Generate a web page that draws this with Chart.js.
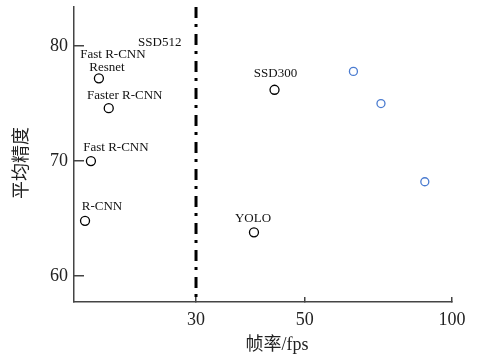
<!DOCTYPE html>
<html>
<head>
<meta charset="utf-8">
<script src="https://cdn.jsdelivr.net/npm/chart.js@4.4.0/dist/chart.umd.min.js"></script>
<style>
body { margin: 0; background: #fff; }
#wrap { width: 477px; height: 359px; }
</style>
</head>
<body>
<div id="wrap"><canvas id="chart"></canvas></div>
<script>
// detectors: frame rate (fps) vs mean average precision
const names = ['R-CNN', 'Fast R-CNN', 'Faster R-CNN', 'Fast R-CNN\nResnet', 'YOLO', 'SSD300'];
const fps = [17.8, 18.3, 19.9, 19.0, 39.4, 43.4];
const mAP = [64.8, 70.0, 74.6, 77.2, 63.8, 76.2];

// unlabeled points (blue)
const otherFps = [62.9, 71.6, 88.0];
const otherMAP = [77.8, 75.0, 68.2];

// SSD512 only shows its label
const labelOnlyNames = ['SSD512'];
const labelOnlyFps = [25.3];
const labelOnlyMAP = [80.3];

const xTicks = [30, 50, 100];
const yTicks = [60, 70, 80];
const splitFps = 30;
const xRange = [16.9, 100];
const yRange = [57.74, 83.4];

// pixel offsets of each label line from its marker
const labelOffsets = [[[17, -14]], [[25, -13]], [[16, -13]], [[14, -24], [8, -11]], [[-1, -14]], [[1, -16]]];

const serif = "'Liberation Serif', 'Noto Sans CJK SC', serif";
const axisColor = '#444';

const labelsPlugin = {
	id: 'labels',
	afterDatasetsDraw(chart) {
		const c = chart.ctx;
		const meta = chart.getDatasetMeta(0);
		c.save();
		c.font = '13px ' + serif;
		c.fillStyle = '#111';
		c.textAlign = 'center';
		c.textBaseline = 'middle';
		names.forEach((n, i) => {
			const p = meta.data[i];
			n.split('\n').forEach((line, j) => {
				const off = labelOffsets[i][j];
				c.fillText(line, p.x + off[0], p.y + off[1]);
			});
		});
		labelOnlyNames.forEach((n, i) => {
			const x = chart.scales.x.getPixelForValue(labelOnlyFps[i]);
			const y = chart.scales.y.getPixelForValue(labelOnlyMAP[i]);
			c.fillText(n, x, y);
		});

		// axis titles
		const a = chart.chartArea;
		c.font = '18px ' + serif;
		c.fillStyle = '#222';
		c.fillText('帧率/fps', a.left + 203, 345);
		c.translate(22, 163);
		c.rotate(-Math.PI / 2);
		c.fillText('平均精度', 0, 0);
		c.restore();
	}
};

new Chart(document.getElementById('chart'), {
	type: 'scatter',
	data: {
		datasets: [{
			data: fps.map((v, i) => ({ x: v, y: mAP[i] })),
			pointStyle: 'circle',
			pointRadius: 4.5,
			borderWidth: 1.3,
			borderColor: '#000',
			backgroundColor: 'rgba(0,0,0,0)'
		}, {
			data: otherFps.map((v, i) => ({ x: v, y: otherMAP[i] })),
			pointStyle: 'circle',
			pointRadius: 4,
			borderWidth: 1.3,
			borderColor: '#4a7bd0',
			backgroundColor: 'rgba(0,0,0,0)'
		}, {
			type: 'line',
			data: [{ x: splitFps, y: yRange[1] }, { x: splitFps, y: yRange[0] }],
			borderColor: '#000',
			borderWidth: 3,
			borderDash: [11, 6, 3, 7],
			pointRadius: 0,
			fill: false
		}]
	},
	options: {
		responsive: true,
		maintainAspectRatio: false,
		animation: false,
		devicePixelRatio: 1,
		events: [],
		layout: { padding: { top: 7, right: 25, left: 0, bottom: 0 } },
		plugins: {
			legend: { display: false },
			tooltip: { enabled: false }
		},
		scales: {
			x: {
				type: 'logarithmic',
				min: xRange[0],
				max: xRange[1],
				afterBuildTicks: s => { s.ticks = xTicks.map(v => ({ value: v })); },
				afterFit: s => { s.height = 57; s.paddingLeft = 0; s.paddingRight = 0; },
				ticks: {
					callback: v => String(v),
					font: { family: serif, size: 18 },
					color: '#222',
					padding: 12,
					maxRotation: 0,
					autoSkip: false
				},
				grid: { drawOnChartArea: false, tickLength: -5, color: axisColor, lineWidth: 1.5 },
				border: { color: axisColor, width: 1.5 }
			},
			y: {
				min: yRange[0],
				max: yRange[1],
				afterBuildTicks: s => { s.ticks = yTicks.map(v => ({ value: v })); },
				afterFit: s => { s.width = 74; s.paddingTop = 0; s.paddingBottom = 0; },
				ticks: {
					font: { family: serif, size: 18 },
					color: '#222',
					padding: 16
				},
				grid: { drawOnChartArea: false, tickLength: -10, color: axisColor, lineWidth: 1.5 },
				border: { color: axisColor, width: 1.5 }
			}
		}
	},
	plugins: [labelsPlugin]
});
</script>
</body>
</html>
